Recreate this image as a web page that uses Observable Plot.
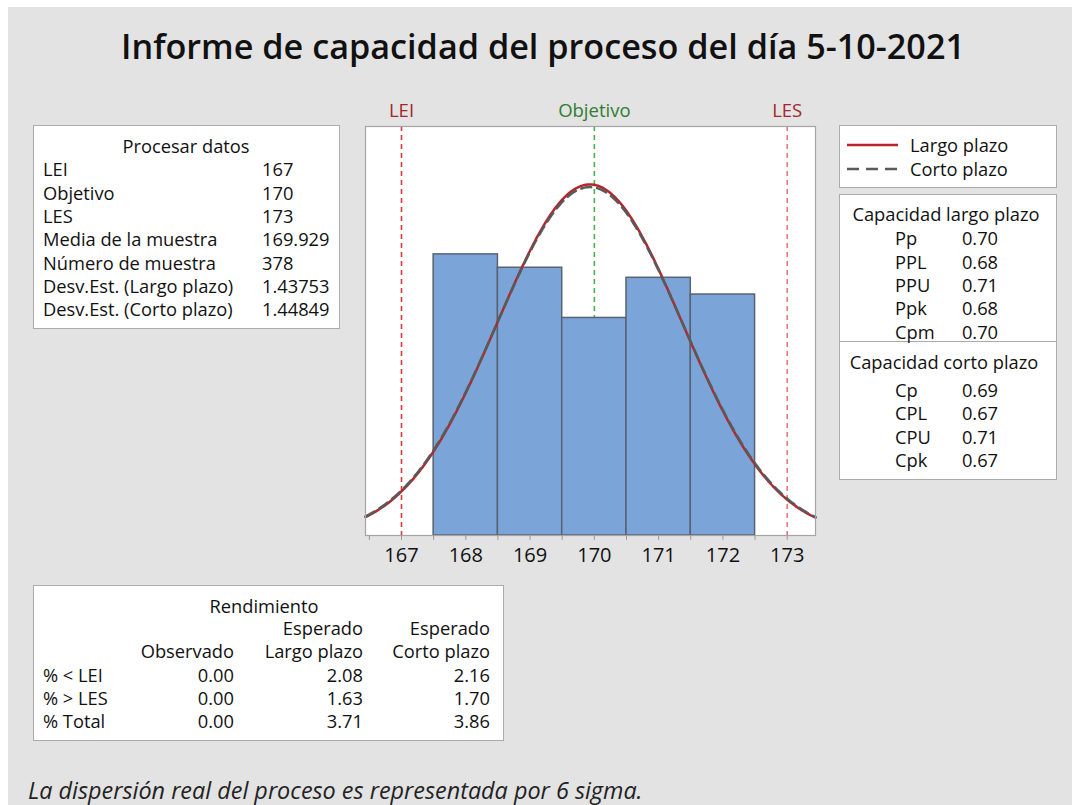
<!DOCTYPE html>
<html><head><meta charset="utf-8">
<script src="https://cdn.jsdelivr.net/npm/d3@7"></script>
<script src="https://cdn.jsdelivr.net/npm/@observablehq/plot@0.6"></script>
<style>
html,body{margin:0;padding:0;background:#fff;width:1072px;height:805px;overflow:hidden;}
#bg{position:absolute;left:8px;top:7px;width:1064px;height:798px;background:#e3e3e3;}
.box{position:absolute;background:#fff;border:1px solid #ababab;box-sizing:border-box;}
.t{position:absolute;white-space:nowrap;font-family:"Open Sans",sans-serif;color:#111;}
#chart{position:absolute;left:355px;top:100px;}
</style></head>
<body><div id="bg"></div><div id="chart"></div>
<script>
// ---------- data ----------
const title = "Informe de capacidad del proceso del día 5-10-2021";
const caption = "La dispersión real del proceso es representada por 6 sigma.";
const lei = 167, target = 170, les = 173;
const sampleMean = 169.929, sampleN = 378;
const sdLong = 1.43753, sdShort = 1.44849;
const binStarts = [167.5, 168.5, 169.5, 170.5, 171.5];
const binWidth = 1;
const binCounts = [84, 80, 65, 77, 72];
const xTicks = [166.5, 167, 167.5, 168, 168.5, 169, 169.5, 170, 170.5, 171, 171.5, 172, 172.5, 173];
const specNames = ["LEI", "Objetivo", "LES"];
const specValues = [lei, target, les];

const processTitle = "Procesar datos";
const processLabels = ["LEI", "Objetivo", "LES", "Media de la muestra", "Número de muestra", "Desv.Est. (Largo plazo)", "Desv.Est. (Corto plazo)"];
const processValues = ["167", "170", "173", "169.929", "378", "1.43753", "1.44849"];

const legendLabels = ["Largo plazo", "Corto plazo"];

const capLongTitle = "Capacidad largo plazo";
const capLongLabels = ["Pp", "PPL", "PPU", "Ppk", "Cpm"];
const capLongValues = ["0.70", "0.68", "0.71", "0.68", "0.70"];
const capShortTitle = "Capacidad corto plazo";
const capShortLabels = ["Cp", "CPL", "CPU", "Cpk"];
const capShortValues = ["0.69", "0.67", "0.71", "0.67"];

const yieldTitle = "Rendimiento";
const yieldHeads1 = ["", "Esperado", "Esperado"];
const yieldHeads2 = ["Observado", "Largo plazo", "Corto plazo"];
const yieldRows = ["% < LEI", "% > LES", "% Total"];
const yieldObserved = ["0.00", "0.00", "0.00"];
const yieldLong = ["2.08", "1.63", "3.71"];
const yieldShort = ["2.16", "1.70", "3.86"];

// ---------- helpers ----------
const FS = 18.3;
function put(txt, x, y, o = {}) {
  const size = o.size || FS;
  const d = document.createElement("div");
  d.className = "t";
  d.textContent = txt;
  d.style.fontSize = size + "px";
  d.style.lineHeight = size + "px";
  d.style.left = x + "px";
  d.style.top = (y - 0.53 * size) + "px";
  if (o.anchor === "middle") d.style.transform = "translateX(-50%)";
  if (o.anchor === "end") d.style.transform = "translateX(-100%)";
  if (o.color) d.style.color = o.color;
  if (o.italic) d.style.fontStyle = "italic";
  if (o.weight) d.style.fontWeight = o.weight;
  document.body.appendChild(d);
}
function box(x, y, w, h) {
  const d = document.createElement("div");
  d.className = "box";
  Object.assign(d.style, {left: x + "px", top: y + "px", width: w + "px", height: h + "px"});
  document.body.appendChild(d);
  return d;
}

// ---------- title & caption ----------
put(title, 543, 47, {size: 34.2, anchor: "middle", color: "#111", weight: 600});
put(caption, 28, 791, {size: 23.4, italic: true, color: "#222"});

// ---------- process data box ----------
box(33, 125, 307, 204);
put(processTitle, 186, 147, {anchor: "middle"});
processLabels.forEach((l, i) => {
  put(l, 43, 170 + i * 23.33);
  put(processValues[i], 262, 170 + i * 23.33);
});

// ---------- legend box ----------
box(839, 125, 218, 63);
{
  const s = document.createElementNS("http://www.w3.org/2000/svg", "svg");
  s.setAttribute("width", 60); s.setAttribute("height", 40);
  Object.assign(s.style, {position: "absolute", left: "844px", top: "135px"});
  s.innerHTML = `<line x1="3" x2="54" y1="10" y2="10" stroke="#b5262b" stroke-width="2.5"/>
  <line x1="3" x2="54" y1="34" y2="34" stroke="#5a5a5a" stroke-width="2.5" stroke-dasharray="12,7"/>`;
  document.body.appendChild(s);
}
put(legendLabels[0], 910, 146);
put(legendLabels[1], 910, 170);

// ---------- capability box ----------
box(839, 194, 218, 286);
{
  const sep = document.createElement("div");
  Object.assign(sep.style, {position: "absolute", left: "839px", top: "341px", width: "218px", height: "1px", background: "#ababab"});
  document.body.appendChild(sep);
}
put(capLongTitle, 946, 214.5, {anchor: "middle"});
capLongLabels.forEach((l, i) => {
  put(l, 895, 239 + i * 23.3);
  put(capLongValues[i], 980, 239 + i * 23.3, {anchor: "middle"});
});
put(capShortTitle, 944, 362.5, {anchor: "middle"});
capShortLabels.forEach((l, i) => {
  put(l, 895, 390.5 + i * 23.4);
  put(capShortValues[i], 980, 390.5 + i * 23.4, {anchor: "middle"});
});

// ---------- yield box ----------
box(33, 585, 471, 156);
put(yieldTitle, 264, 606.5, {anchor: "middle"});
const colRight = [234, 363, 490];
yieldHeads1.forEach((h, i) => { if (h) put(h, colRight[i], 629, {anchor: "end"}); });
yieldHeads2.forEach((h, i) => put(h, colRight[i], 652, {anchor: "end"}));
yieldRows.forEach((r, i) => {
  const y = 676 + i * 23;
  put(r, 43, y);
  put(yieldObserved[i], colRight[0], y, {anchor: "end"});
  put(yieldLong[i], colRight[1], y, {anchor: "end"});
  put(yieldShort[i], colRight[2], y, {anchor: "end"});
});

// ---------- chart ----------
const xDomain = [166.44, 173.44];
const yMax = 0.3233;
const bars = binStarts.map((s, i) => ({x1: s, x2: s + binWidth, y: binCounts[i] / sampleN / binWidth}));
const pdf = (x, m, s) => Math.exp(-0.5 * ((x - m) / s) ** 2) / (s * Math.sqrt(2 * Math.PI));
const xs = d3.range(xDomain[0], xDomain[1] + 1e-9, (xDomain[1] - xDomain[0]) / 300);
const curveLong = xs.map(x => ({x, y: pdf(x, sampleMean, sdLong)}));
const curveShort = xs.map(x => ({x, y: pdf(x, sampleMean, sdShort)}));
const specs = specNames.map((n, i) => ({name: n, x: specValues[i]}));
const specColors = {LEI: "#a3262a", Objetivo: "#2f7d32", LES: "#a3262a"};

const chart = Plot.plot({
  width: 470, height: 475,
  marginTop: 26, marginBottom: 40, marginLeft: 10, marginRight: 10,
  style: {background: "transparent", fontFamily: "Open Sans, sans-serif", color: "#111", overflow: "visible"},
  x: {domain: xDomain},
  y: {domain: [0, yMax], axis: null},
  marks: [
    Plot.frame({fill: "white", stroke: "none"}),
    Plot.ruleX([target], {stroke: "#4caf50", strokeWidth: 1.6, strokeDasharray: "5,4"}),
    Plot.rectY(bars, {x1: "x1", x2: "x2", y: "y", fill: "#7ba5d8", stroke: "#5a6170", strokeWidth: 1.5}),
    Plot.ruleX([lei], {stroke: "#d9383a", strokeWidth: 1.6, strokeDasharray: "5,4"}),
    Plot.ruleX([les], {stroke: "#e97a7a", strokeWidth: 1.6, strokeDasharray: "5,4"}),
    Plot.line(curveLong, {x: "x", y: "y", stroke: "#b5262b", strokeWidth: 2.5}),
    Plot.line(curveShort, {x: "x", y: "y", stroke: "#5a5a5a", strokeWidth: 2.5, strokeDasharray: "10,6"}),
    Plot.frame({stroke: "#a5a5a5", strokeWidth: 1.2}),
    Plot.axisX({ticks: xTicks, tickFormat: d => Number.isInteger(d) ? String(d) : "", tickSize: 5, tickPadding: 7, stroke: "#9a9a9a", fontSize: 20, fill: "#111", label: null}),
    Plot.text(specs, {x: "x", frameAnchor: "top", text: "name", fill: d => specColors[d.name], fontSize: 18.5, dy: -10, lineAnchor: "bottom"})
  ]
});
document.getElementById("chart").appendChild(chart);
</script>
</body></html>
